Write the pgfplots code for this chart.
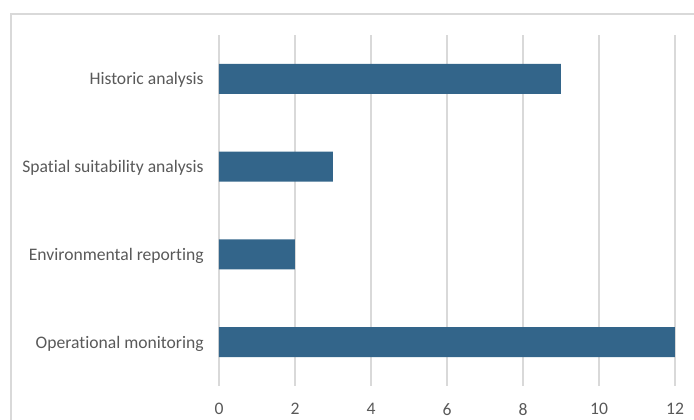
\documentclass[border=0pt]{standalone}
\usepackage{fontspec}
\setmainfont{Carlito}[Ligatures=NoCommon]
\usepackage{pgfplots}
\pgfplotsset{compat=1.18}
\definecolor{barc}{HTML}{33658A}
\definecolor{gridc}{HTML}{D9D9D9}
\definecolor{txt}{HTML}{595959}
\begin{document}
\begin{tikzpicture}[x=0.75pt,y=0.75pt]
\useasboundingbox (0,0) rectangle (694,420);
\draw[gridc,line width=0.9pt] (11,-20) -- (11,406) -- (720,406);
\begin{axis}[
  at={(164.25pt,25.5pt)}, anchor=south west,
  scale only axis, width=342pt, height=263.25pt,
  xbar, bar width=0.342,
  xmin=0, xmax=12, ymin=-0.5, ymax=3.5,
  xtick={0,2,...,12},
  ytick={0,1,2,3},
  yticklabels={Operational monitoring,Environmental reporting,Spatial suitability analysis,Historic analysis},
  axis line style={draw=none},
  major tick length=0pt,
  xmajorgrids, grid style={gridc,line width=0.9pt},
  ymajorgrids=false,
  tick label style={font=\fontsize{13.2}{15}\selectfont, text=txt},
  /pgf/number format/assume math mode=true,
  xticklabel style={yshift=-9.5pt},
  yticklabel style={xshift=-8pt, yshift=-1pt},
  clip=false,
]
\addplot[fill=barc, draw=none] coordinates {(12,0) (2,1) (3,2) (9,3)};
\end{axis}
\end{tikzpicture}
\end{document}
